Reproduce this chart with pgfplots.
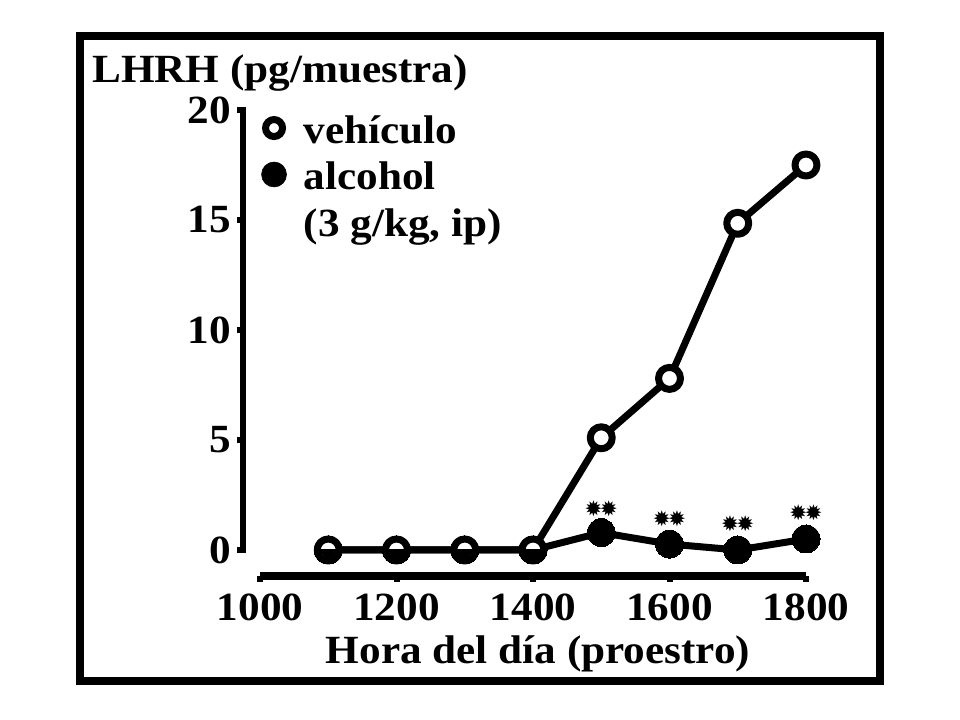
\documentclass[border=0pt]{standalone}
\usepackage{fontspec}
\setmainfont{Liberation Serif}[FakeStretch=1.08]
\newfontfamily\dejavu{DejaVu Sans}
\usepackage{pgfplots}
\pgfplotsset{compat=1.18}
\newlength\px \setlength\px{0.75pt}
\newcommand\bigf{\fontsize{30}{36}\selectfont\bfseries}
\newcommand\flw{{\dejavu\fontsize{16}{16}\selectfont ✹\hspace{-2pt}✹}}
\begin{document}
\begin{tikzpicture}[x=1\px,y=1\px]
\path (0,0) rectangle (960,720);
\draw[line width=8\px] (80,684) rectangle (880,39);
\node[anchor=base west, inner sep=0, font=\bigf] at (92,637) {LHRH (pg/muestra)};
\node[anchor=base, inner sep=0, font=\bigf] at (538,56) {Hora del día (proestro)};
\begin{axis}[
  at={(243\px,144\px)}, anchor=south west,
  scale only axis, width=563\px, height=466\px,
  xmin=975.09, xmax=1800, ymin=-1.1818, ymax=20,
  clip=false,
  axis x line*=bottom, axis y line*=left,
  axis line style={draw=none},
  xtick={1000,1200,...,1800}, ytick={0,5,...,20},
  minor tick num=0,
  tick style={line width=6\px, black},
  major tick length=6\px,
  tick align=outside,
  /pgf/number format/assume math mode=true,
  /pgf/number format/1000 sep={},
  xticklabel style={font=\bigf, anchor=north, inner sep=0pt, yshift=-12\px},
  yticklabel style={font=\bigf, anchor=east, inner sep=0pt, xshift=-6\px},
  legend style={at={(0.032,0.989)}, anchor=north west, draw=none, fill=none,
    font=\bigf, inner sep=0pt, row sep=9\px,
    nodes={inner sep=0pt, text height=21pt, text depth=7pt}},
  legend cell align=left,
]
\draw[line width=6\px, line cap=rect] (axis cs:975.09,0) -- (axis cs:975.09,20);
\draw[line width=8\px] (axis cs:1000,-1.1818) -- (axis cs:1800,-1.1818);

\addlegendimage{legend image code/.code={\draw[line width=7\px, fill=white] (11\px,6\px) circle (8.5\px);}}
\addlegendentry{\hspace{17\px}vehículo}
\addlegendimage{legend image code/.code={\fill (11\px,6\px) circle (12.5\px);}}
\addlegendentry{\hspace{17\px}alcohol}
\addlegendimage{empty legend}
\addlegendentry{\hspace{17\px}(3 g/kg, ip)}

\addplot[forget plot, line width=7\px, line join=round, mark=*, mark size=14\px,
  mark options={line width=0pt, fill=black}]
  coordinates {(1100,0)(1200,0)(1300,0)(1400,0)(1500,0.79)(1600,0.27)(1700,0)(1800,0.5)};
\addplot[forget plot, line width=7\px, line join=round, mark=*, mark size=11\px,
  mark options={fill=white, line width=7\px}]
  coordinates {(1100,0)(1200,0)(1300,0)(1400,0)(1500,5.1)(1600,7.8)(1700,14.85)(1800,17.5)};

\node at (axis cs:1500,1.86) {\flw};
\node at (axis cs:1600,1.41) {\flw};
\node at (axis cs:1700,1.18) {\flw};
\node at (axis cs:1800,1.68) {\flw};
\end{axis}
% overlay: lower halves of the alcohol markers showing through the open vehicle markers
\begin{axis}[
  at={(243\px,144\px)}, anchor=south west,
  scale only axis, width=563\px, height=26\px,
  xmin=975.09, xmax=1800, ymin=-1.1818, ymax=0,
  hide axis, clip=true, clip marker paths=true,
]
\addplot[only marks, mark=*, mark size=7.6\px, black, mark options={line width=0pt, fill=black}]
  coordinates {(1100,0)(1200,0)(1300,0)(1400,0)};
\end{axis}
\end{tikzpicture}
\end{document}
